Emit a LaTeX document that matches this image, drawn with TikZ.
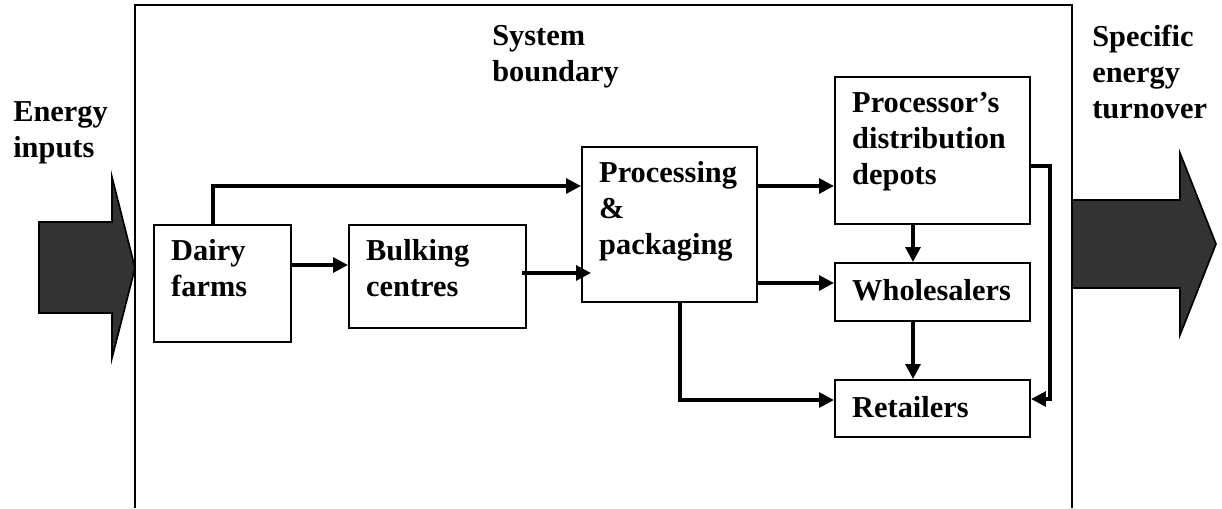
\documentclass[tikz,border=0pt]{standalone}
\usepackage{fontspec}
\setmainfont{Liberation Serif}
\usetikzlibrary{arrows.meta,positioning,fit,calc}

\begin{document}
\begin{tikzpicture}[x=0.025cm, y=-0.025cm, box/.style={draw, line width=1.5pt, inner sep=0pt}, lbl/.style={font=\bfseries\fontsize{21.6}{25.6}\selectfont, align=left, anchor=base west, inner sep=0pt}, flow/.style={line width=2.3pt, -{Triangle[length=3.7mm, width=3.7mm]}}, big/.style={draw, line width=1.2pt, fill=black!80}]
\useasboundingbox (0,0) rectangle (1222,508);
% system boundary, open at the bottom
\draw[line width=1.5pt] (135,508) -- (135,5) -- (1072,5) -- (1072,508);
% energy in and out
\draw[big] (39,222) -- (112,222) -- (112,177) -- (135,268) -- (112,358) -- (112,313) -- (39,313) -- cycle;
\draw[big] (1072,200) -- (1180,200) -- (1180,153) -- (1216,244) -- (1180,335) -- (1180,288) -- (1072,288) -- cycle;
% labels sit on the baseline of their last line
\node[lbl] (inputs) at (13,157) {Energy\\inputs};
\node[lbl] (sysb) at (492,81) {System\\boundary};
\node[lbl] (turnover) at (1092,118) {Specific\\energy\\turnover};
% stages of the chain
\foreach \n/\xa/\ya/\xb/\yb in {dairy/154/225/291/342, bulk/349/225/526/328, proc/582/147/757/302, depot/835/77/1030/224, whole/835/263/1030/321, retail/835/380/1030/437}
  \node[box, fit={(\xa,\ya) (\xb,\yb)}] (\n) {};
\foreach \n/\d/\t in {dairy/73/{Dairy\\farms}, bulk/73/{Bulking\\centres}, proc/109/{Processing\\\&\\packaging}, depot/109/{Processor’s\\distribution\\depots}, whole/39/Wholesalers, retail/39/Retailers}
  \node[lbl] (t-\n) at ([shift={(18,\d)}]\n.north west) {\t};
% milk flows
\draw[flow] (dairy.north -| 213,0) |- (proc.west |- 0,186);
\draw[flow] (dairy.east |- 0,265) -- (bulk.west |- 0,265);
\draw[flow] ($(bulk.east |- 0,273)+(-5,0)$) -- ($(proc.west |- 0,273)+(10,0)$);
\draw[flow] (proc.east |- 0,186) -- (depot.west |- 0,186);
\draw[flow] (proc.east |- 0,283) -- (whole.west |- 0,283);
\draw[flow] (proc.south -| 680,0) |- (retail.west |- 0,400);
\draw[flow] (depot.south -| 913,0) -- (whole.north -| 913,0);
\draw[flow] (whole.south -| 913,0) -- (retail.north -| 913,0);
\draw[flow] (depot.east |- 0,166) -- ++(19,0) |- (retail.east |- 0,399);
\end{tikzpicture}
\end{document}
